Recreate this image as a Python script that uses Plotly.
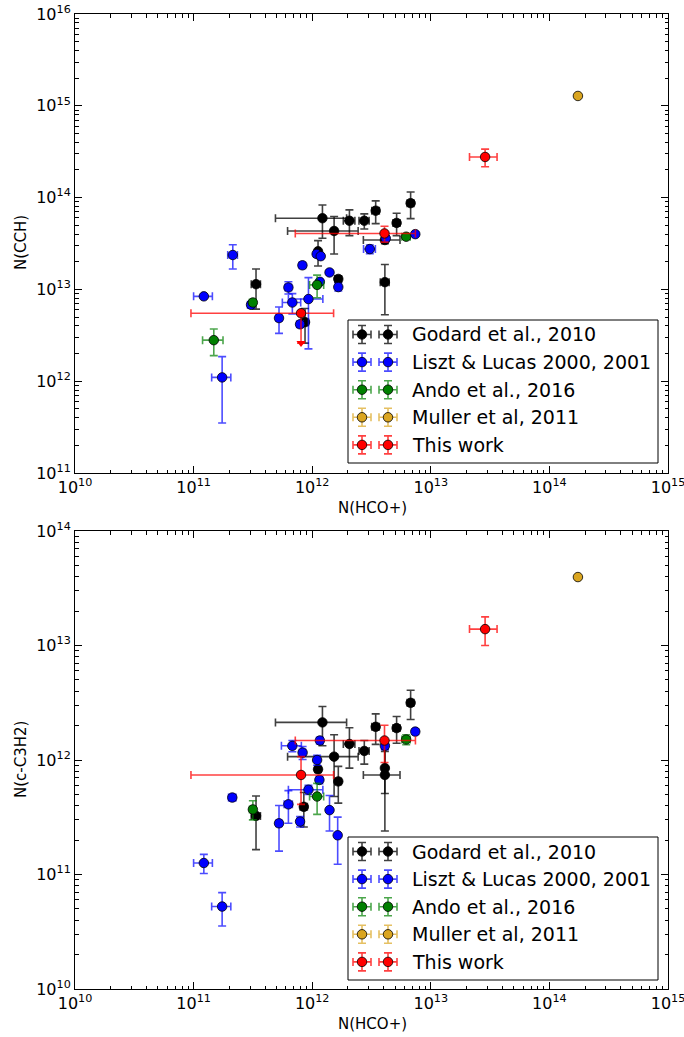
import plotly.graph_objects as go

W, H = 684, 1037

# ---------------- N(HCO+) vs N(CCH) ----------------
godard_cch_x = [1.22e12, 1.53e12, 2.06e12, 2.75e12, 3.43e12, 5.15e12, 6.76e12,
                4.1e12, 1.12e12, 1.66e12, 3.36e11, 8.7e11, 4.1e12]
godard_cch_xerr = [7.3e11, 9.1e11, 2.3e11, 2.7e11, 2.5e11, 3.5e11, 4.5e11,
                   3.5e11, 5e10, 1e11, 3e10, 6e10, 1.4e12]
godard_cch_y = [5.96e13, 4.33e13, 5.6e13, 5.6e13, 7.2e13, 5.3e13, 8.7e13,
                1.2e13, 2.6e13, 1.3e13, 1.14e13, 4.4e12, 3.45e13]
godard_cch_yerr = [2.35e13, 1.9e13, 1.75e13, 1.05e13, 2.0e13, 1.45e13, 2.8e13,
                   6.7e12, 8e12, 1e12, 5.3e12, 1.8e12, 3e12]

liszt_cch_x = [2.14e11, 1.22e11, 3.05e11, 5.25e11, 6.3e11, 6.8e11, 1.74e11, 8.27e11,
               1.09e12, 1.18e12, 1.4e12, 1.66e12, 1.16e12, 9.3e11, 7.9e11, 3.06e12,
               4.17e12, 7.4e12]
liszt_cch_xerr = [2e10, 2.2e10, 2e10, 3e10, 4e10, 1.2e11, 3.2e10, 5e10, 5e10, 5e10,
                  5e10, 5e10, 5e10, 3e11, 5e10, 3.5e11, 2e11, 3e11]
liszt_cch_y = [2.37e13, 8.4e12, 6.8e12, 4.87e12, 1.05e13, 7.2e12, 1.1e12, 1.83e13,
               2.43e13, 2.3e13, 1.53e13, 1.06e13, 1.21e13, 7.85e12, 4.17e12, 2.75e13,
               3.6e13, 4.0e13]
liszt_cch_yerr = [7e12, 4e11, 5e11, 1.55e12, 1.6e12, 1.8e12, 7.5e11, 1e12, 1.5e12,
                  1.2e12, 8e11, 1e12, 8e11, 5.6e12, 3e11, 3e12, 2e12, 2e12]

ando_cch_x = [3.16e11, 1.1e12, 1.48e11, 6.2e12]
ando_cch_xerr = [2e10, 1.5e11, 2.9e10, 5e11]
ando_cch_y = [7.2e12, 1.12e13, 2.8e12, 3.75e13]
ando_cch_yerr = [4e11, 3.1e12, 9e11, 2e12]

muller_cch_x = [1.74e14]
muller_cch_y = [1.28e15]

this_cch_x = [8.05e11, 4.07e12, 2.87e13]
this_cch_xerr = [7.1e11, 3.35e12, 7.5e12]
this_cch_y = [5.5e12, 4.07e13, 2.77e14]
this_cch_yerr = [0.0, 8e12, 6e13]
this_cch_uplim = [2.6e12, None, None]   # upper-limit arrow tip

# ---------------- N(HCO+) vs N(c-C3H2) ----------------
godard_c3h2_x = [1.22e12, 1.53e12, 2.06e12, 2.75e12, 3.43e12, 5.15e12, 6.76e12,
                 4.1e12, 4.1e12, 1.12e12, 1.66e12, 3.36e11, 8.5e11]
godard_c3h2_xerr = [7.3e11, 9.1e11, 2.3e11, 2.7e11, 2.5e11, 3.5e11, 4.5e11,
                    1.5e11, 1.4e12, 5e10, 1e11, 3e10, 6e10]
godard_c3h2_y = [2.13e12, 1.07e12, 1.38e12, 1.2e12, 1.95e12, 1.9e12, 3.16e12,
                 8.5e11, 7.4e11, 8.3e11, 6.5e11, 3.25e11, 3.9e11]
godard_c3h2_yerr = [8e11, 5.9e11, 5.3e11, 2.8e11, 5.8e11, 5e11, 9e11,
                    3.4e11, 5e11, 5e10, 2.3e11, 1.6e11, 1.3e11]

liszt_c3h2_x = [2.12e11, 1.22e11, 1.74e11, 5.25e11, 6.3e11, 7.9e11, 9.3e11, 6.8e11,
                8.3e11, 1.16e12, 1.1e12, 1.15e12, 1.4e12, 1.64e12, 4.1e12, 7.4e12]
liszt_c3h2_xerr = [1.5e10, 2.2e10, 3.2e10, 3e10, 5e10, 4e10, 3e11, 1.3e11,
                   5e10, 5e10, 5e10, 5e10, 5e10, 5e10, 2e11, 3e11]
liszt_c3h2_y = [4.7e11, 1.26e11, 5.25e10, 2.8e11, 4.1e11, 2.9e11, 5.5e11, 1.33e12,
                1.16e12, 1.48e12, 1.0e12, 6.7e11, 3.65e11, 2.2e11, 1.33e12, 1.77e12]
liszt_c3h2_yerr = [3e10, 2.4e10, 1.7e10, 1.2e11, 1.3e11, 3e10, 5e10, 1.5e11,
                   1.5e11, 1e11, 1e11, 5e10, 1.25e11, 9.7e10, 1e11, 1e11]

ando_c3h2_x = [3.16e11, 1.1e12, 6.2e12]
ando_c3h2_xerr = [2e10, 1.5e11, 5e11]
ando_c3h2_y = [3.7e11, 4.8e11, 1.51e12]
ando_c3h2_yerr = [7e10, 1.45e11, 1.5e11]

muller_c3h2_x = [1.74e14]
muller_c3h2_y = [3.96e13]

this_c3h2_x = [8.05e11, 4.07e12, 2.87e13]
this_c3h2_xerr = [7.1e11, 3.35e12, 7.5e12]
this_c3h2_y = [7.4e11, 1.48e12, 1.39e13]
this_c3h2_yerr = [3.3e11, 5.3e11, 3.9e12]

legend_labels = ["Godard et al., 2010", "Liszt & Lucas 2000, 2001",
                 "Ando et al., 2016", "Muller et al, 2011", "This work"]
series_colors = ["#000000", "#0000ff", "#008000", "#daa520", "#ff0000"]
bar_colors = ["rgba(0,0,0,0.75)", "rgba(0,0,255,0.7)", "rgba(0,128,0,0.7)",
              "rgba(218,165,32,0.7)", "rgba(255,0,0,0.75)"]

x_exponents = [10, 11, 12, 13, 14, 15]
cch_exponents = [11, 12, 13, 14, 15, 16]
c3h2_exponents = [10, 11, 12, 13, 14]

FONT = "DejaVu Sans"
MARKER_SIZE = 9.5

fig = go.Figure()


def add_points(xa, ya, x, y, xerr, yerr, idx, yerr_minus=None):
    err_y = None
    if yerr is not None:
        err_y = dict(type="data", array=yerr, color=bar_colors[idx],
                     thickness=1.6, width=4)
        if yerr_minus is not None:
            err_y.update(symmetric=False, arrayminus=yerr_minus)
    err_x = None
    if xerr is not None:
        err_x = dict(type="data", array=xerr, color=bar_colors[idx],
                     thickness=1.6, width=4)
    fig.add_trace(go.Scatter(
        x=x, y=y, mode="markers", xaxis=xa, yaxis=ya, showlegend=False,
        marker=dict(symbol="circle", size=MARKER_SIZE, color=series_colors[idx],
                    line=dict(color="black", width=0.8)),
        error_x=err_x, error_y=err_y))


# top panel
add_points("x", "y", godard_cch_x, godard_cch_y, godard_cch_xerr, godard_cch_yerr, 0)
add_points("x", "y", liszt_cch_x, liszt_cch_y, liszt_cch_xerr, liszt_cch_yerr, 1)
add_points("x", "y", ando_cch_x, ando_cch_y, ando_cch_xerr, ando_cch_yerr, 2)
add_points("x", "y", muller_cch_x, muller_cch_y, None, None, 3)

# upper limits of this work: line down to the limit, then an arrow head
lim_minus = [(v - l) if l is not None else e
             for v, l, e in zip(this_cch_y, this_cch_uplim, this_cch_yerr)]
add_points("x", "y", this_cch_x, this_cch_y, this_cch_xerr, this_cch_yerr, 4,
           yerr_minus=lim_minus)
lim_x = [xv for xv, l in zip(this_cch_x, this_cch_uplim) if l is not None]
lim_y = [l for l in this_cch_uplim if l is not None]
fig.add_trace(go.Scatter(
    x=lim_x, y=lim_y, mode="markers", xaxis="x", yaxis="y", showlegend=False,
    marker=dict(symbol="triangle-down", size=8, color=series_colors[4],
                line=dict(width=0))))

# bottom panel
add_points("x2", "y2", godard_c3h2_x, godard_c3h2_y, godard_c3h2_xerr, godard_c3h2_yerr, 0)
add_points("x2", "y2", liszt_c3h2_x, liszt_c3h2_y, liszt_c3h2_xerr, liszt_c3h2_yerr, 1)
add_points("x2", "y2", ando_c3h2_x, ando_c3h2_y, ando_c3h2_xerr, ando_c3h2_yerr, 2)
add_points("x2", "y2", muller_c3h2_x, muller_c3h2_y, None, None, 3)
add_points("x2", "y2", this_c3h2_x, this_c3h2_y, this_c3h2_xerr, this_c3h2_yerr, 4)

# ---- legends: boxes, two sample markers per entry, labels ----
legend_boxes = [(348, 320, 658, 463), (348, 837, 658, 980)]
ROW_STEP = 27.6
shapes = []
annotations = []
for (bx0, by0, bx1, by1) in legend_boxes:
    shapes.append(dict(type="rect", xref="paper", yref="paper",
                       x0=bx0 / W, x1=bx1 / W, y0=1 - by1 / H, y1=1 - by0 / H,
                       line=dict(color="black", width=1), fillcolor="white",
                       layer="below"))
    for i, label in enumerate(legend_labels):
        ry = by0 + 14.5 + ROW_STEP * i
        fig.add_trace(go.Scatter(
            x=[bx0 + 14, bx0 + 40], y=[ry, ry], mode="markers",
            xaxis="x3", yaxis="y3", showlegend=False, hoverinfo="skip",
            marker=dict(size=MARKER_SIZE, color=series_colors[i],
                        line=dict(color="black", width=0.8)),
            error_x=dict(type="constant", value=9, color=bar_colors[i],
                         thickness=1.6, width=4),
            error_y=dict(type="constant", value=9, color=bar_colors[i],
                         thickness=1.6, width=4)))
        annotations.append(dict(x=(bx0 + 62) / W, y=1 - ry / H, xref="paper",
                                yref="paper", text=label, showarrow=False,
                                xanchor="left", yanchor="middle",
                                font=dict(family=FONT, size=19, color="black")))

# axis titles
annotations += [
    dict(x=21 / W, y=1 - 243 / H, text="N(CCH)", textangle=-90),
    dict(x=372 / W, y=1 - 508 / H, text="N(HCO+)"),
    dict(x=21 / W, y=1 - 760 / H, text="N(c-C3H2)", textangle=-90),
    dict(x=372 / W, y=1 - 1024 / H, text="N(HCO+)"),
]
for a in annotations[-4:]:
    a.update(xref="paper", yref="paper", showarrow=False, xanchor="center",
             yanchor="middle", font=dict(family=FONT, size=15, color="black"))


def minor_vals(lo, hi):
    return [k * 10.0 ** e for e in range(lo, hi) for k in range(2, 10)]


def log_axis(exps, domain, anchor):
    return dict(
        type="log", range=[exps[0], exps[-1]], domain=domain, anchor=anchor,
        automargin=False, ticklabeloverflow="allow",
        tickmode="array", tickvals=[10.0 ** e for e in exps],
        ticktext=["10<sup>%d</sup>" % e for e in exps],
        ticks="inside", ticklen=7, tickwidth=1, tickcolor="black",
        minor=dict(tickmode="array", tickvals=minor_vals(exps[0], exps[-1]),
                   ticks="inside", ticklen=3.5, tickwidth=1, tickcolor="black",
                   showgrid=False),
        showline=True, linecolor="black", linewidth=1, mirror="ticks",
        showgrid=False, zeroline=False,
        tickfont=dict(family=FONT, size=16, color="black"),
    )


xdom = [75 / W, 668 / W]
fig.update_layout(
    width=W, height=H, margin=dict(l=0, r=0, t=0, b=0, pad=0, autoexpand=False),
    paper_bgcolor="white", plot_bgcolor="rgba(0,0,0,0)",
    font=dict(family=FONT, color="black"),
    showlegend=False,
    xaxis=log_axis(x_exponents, xdom, "y"),
    yaxis=log_axis(cch_exponents, [1 - 473 / H, 1 - 14 / H], "x"),
    xaxis2=log_axis(x_exponents, xdom, "y2"),
    yaxis2=log_axis(c3h2_exponents, [1 - 989 / H, 1 - 531 / H], "x2"),
    xaxis3=dict(domain=[0, 1], range=[0, W], anchor="y3", visible=False,
                fixedrange=True, automargin=False),
    yaxis3=dict(domain=[0, 1], range=[H, 0], anchor="x3", visible=False,
                fixedrange=True, automargin=False),
    shapes=shapes,
    annotations=annotations,
)

fig.write_html("out.html")
